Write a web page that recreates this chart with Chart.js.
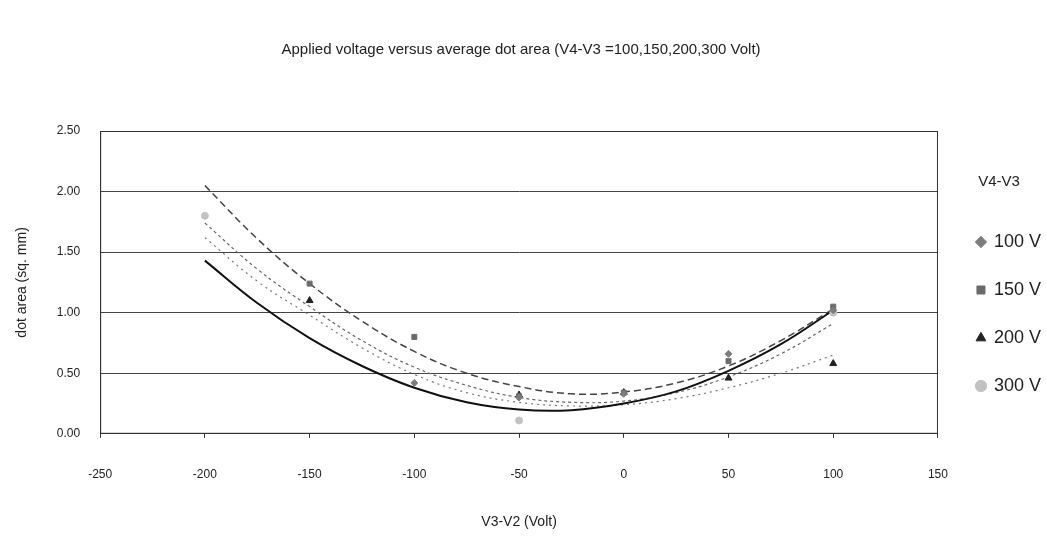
<!DOCTYPE html>
<html>
<head>
<meta charset="utf-8">
<title>Dot area vs applied voltage</title>
<script src="https://cdn.jsdelivr.net/npm/chart.js@4.4.1/dist/chart.umd.min.js"></script>
<style>
  html, body { margin: 0; padding: 0; background: #fff; }
  #wrap { width: 1046px; height: 551px; position: relative; }
</style>
</head>
<body>
<div id="wrap"><canvas id="dotChart"></canvas></div>
<script>
// measured points (V3-V2 in volts, dot area in sq. mm), null = no reading
const xVolts = [-200, -150, -100, -50, 0, 50, 100];
const dot100 = [null, null, 0.42, 0.30, 0.33, 0.66, 1.02];
const dot150 = [null, 1.24, 0.80, 0.31, 0.34, 0.60, 1.05];
const dot200 = [null, 1.10, null, 0.32, 0.34, 0.46, 0.58];
const dot300 = [1.80, null, null, 0.11, null, null, 1.00];

// polynomial trend curves, read every 25 V
const trendX = [-200, -175, -150, -125, -100, -75, -50, -25, 0, 25, 50, 75, 100];
const trend100 = [1.43, 1.08, 0.79, 0.56, 0.38, 0.26, 0.20, 0.195, 0.25, 0.35, 0.52, 0.74, 1.02];
const trend150 = [2.05, 1.61, 1.24, 0.93, 0.68, 0.50, 0.39, 0.33, 0.345, 0.42, 0.56, 0.77, 1.03];
const trend200 = [1.62, 1.26, 0.98, 0.71, 0.49, 0.34, 0.26, 0.23, 0.24, 0.29, 0.38, 0.50, 0.65];
const trend300 = [1.74, 1.36, 1.05, 0.77, 0.55, 0.40, 0.30, 0.26, 0.27, 0.34, 0.47, 0.66, 0.91];

const yTicks = [0, 0.5, 1, 1.5, 2, 2.5];

function toPoints(xs, ys) {
    const pts = [];
    xs.forEach((x, i) => {
        if (ys[i] !== null) pts.push({ x: x, y: ys[i] });
    });
    return pts;
}

function markerSet(label, ys, style, color, radius) {
    return {
        label: label,
        data: toPoints(xVolts, ys),
        pointStyle: style,
        pointRadius: radius,
        pointBackgroundColor: color,
        pointBorderColor: color,
        backgroundColor: color,
        borderColor: color,
        showLine: false,
        order: 0
    };
}

function trendSet(ys, color, width, dash) {
    return {
        label: 'trend',
        data: toPoints(trendX, ys),
        showLine: true,
        pointRadius: 0,
        borderColor: color,
        borderWidth: width,
        borderDash: dash,
        tension: 0.4,
        fill: false,
        order: 1
    };
}

// plot area frame, and nudge the legend a little further from the plot
const frame = {
    id: 'frame',
    afterLayout(chart) {
        const lg = chart.legend;
        if (lg) { lg.left += 9; lg.right += 9; }
    },
    afterDraw(chart) {
        const a = chart.chartArea;
        const c = chart.ctx;
        c.save();
        c.strokeStyle = '#333';
        c.lineWidth = 1;
        c.strokeRect(a.left + 0.5, a.top + 0.5, a.right - a.left - 1, a.bottom - a.top - 1);
        c.restore();
    }
};

Chart.defaults.font.family = '"Liberation Sans", Arial, sans-serif';
Chart.defaults.color = '#222';

new Chart(document.getElementById('dotChart'), {
    type: 'scatter',
    data: {
        datasets: [
            markerSet('100 V', dot100, 'rectRot', '#7c7c7c', 3.5),
            markerSet('150 V', dot150, 'rect', '#6a6a6a', 3.5),
            markerSet('200 V', dot200, 'triangle', '#222', 4),
            markerSet('300 V', dot300, 'circle', '#c2c2c2', 3.5),
            trendSet(trend100, '#111', 2, []),
            trendSet(trend150, '#444', 1.5, [7, 4]),
            trendSet(trend200, '#777', 1.2, [2, 4]),
            trendSet(trend300, '#666', 1.2, [3, 3])
        ]
    },
    options: {
        responsive: true,
        maintainAspectRatio: false,
        animation: false,
        layout: { padding: { left: 0, right: 4, top: 0, bottom: 0 } },
        scales: {
            x: {
                min: -250,
                max: 150,
                ticks: { stepSize: 50, padding: 30, font: { size: 12 } },
                grid: { drawOnChartArea: false, drawTicks: true, tickLength: 4, color: '#333' },
                border: { color: '#333' },
                title: {
                    display: true,
                    text: 'V3-V2 (Volt)',
                    font: { size: 14 },
                    padding: { top: 2, bottom: 20 }
                }
            },
            y: {
                min: 0,
                max: 2.5,
                afterBuildTicks: axis => { axis.ticks = yTicks.map(v => ({ value: v })); },
                ticks: {
                    padding: 20,
                    font: { size: 12 },
                    callback: v => Number(v).toFixed(2)
                },
                grid: { color: '#444', drawTicks: false },
                border: { color: '#333' },
                title: {
                    display: true,
                    text: 'dot area (sq. mm)',
                    font: { size: 14 },
                    padding: { top: 14, bottom: 6 }
                }
            }
        },
        plugins: {
            title: {
                display: true,
                text: 'Applied voltage versus average dot area (V4-V3 =100,150,200,300 Volt)',
                font: { size: 15, weight: 'normal' },
                color: '#222',
                padding: { top: 41, bottom: 72 }
            },
            legend: {
                position: 'right',
                title: {
                    display: true,
                    text: 'V4-V3',
                    font: { size: 15 },
                    padding: { top: 48, bottom: 11 }
                },
                labels: {
                    usePointStyle: true,
                    boxWidth: 8,
                    boxHeight: 8,
                    padding: 30,
                    font: { size: 18 },
                    filter: item => item.text !== 'trend'
                }
            },
            tooltip: { enabled: false }
        }
    },
    plugins: [frame]
});
</script>
</body>
</html>
